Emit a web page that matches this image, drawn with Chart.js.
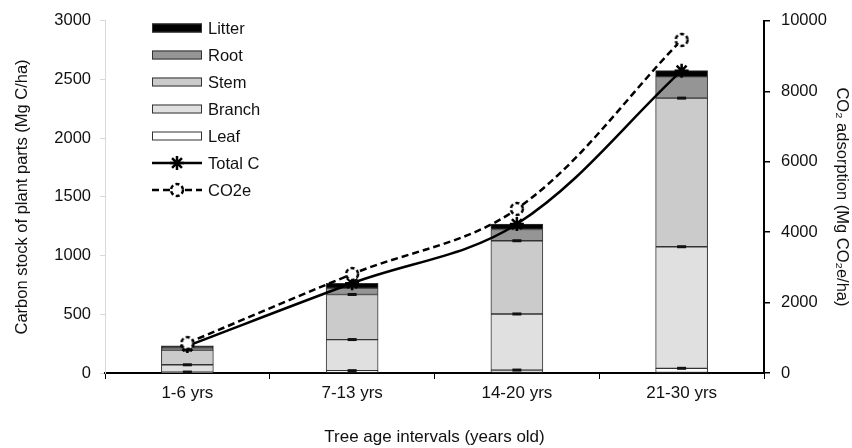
<!DOCTYPE html>
<html>
<head>
<meta charset="utf-8">
<script src="https://cdn.jsdelivr.net/npm/chart.js@4.4.0/dist/chart.umd.min.js"></script>
<style>
  html, body { margin: 0; padding: 0; background: #fff; }
  #wrap { width: 852px; height: 448px; }
</style>
</head>
<body>
<div id="wrap"><canvas id="chart"></canvas></div>
<script>
const categories = ['1-6 yrs', '7-13 yrs', '14-20 yrs', '21-30 yrs'];
const leaf = [8, 20, 25, 40];
const branch = [62, 265, 478, 1036];
const stem = [125, 384, 624, 1266];
const root = [18, 54, 96, 183];
const litter = [18, 42, 46, 51];
const totalC = [231, 765, 1269, 2576];
const co2e = [850, 2810, 4660, 9460];
const leftTicks = [0, 500, 1000, 1500, 2000, 2500, 3000];
const rightTicks = [0, 2000, 4000, 6000, 8000, 10000];

const FONT = 'Liberation Sans, Arial, sans-serif';
Chart.defaults.font.family = FONT;
Chart.defaults.color = '#111';

// dashed circle marker, like the Excel one
function dashedCircle() {
    const c = document.createElement('canvas');
    c.width = 18; c.height = 18;
    const g = c.getContext('2d');
    g.beginPath();
    g.arc(9, 9, 6, 0, Math.PI * 2);
    g.fillStyle = '#fff';
    g.fill();
    g.setLineDash([4, 2.5]);
    g.lineWidth = 2.5;
    g.strokeStyle = '#000';
    g.stroke();
    return c;
}
const co2Marker = dashedCircle();

function barSet(label, data, color) {
    return {
        type: 'bar', label: label, data: data,
        backgroundColor: color, borderColor: '#333', borderWidth: 1,
        borderSkipped: false, barThickness: 52, order: 2, yAxisID: 'y'
    };
}

const datasets = [
    Object.assign(barSet('Leaf', leaf, '#ffffff'), {errMark: true}),
    Object.assign(barSet('Branch', branch, '#e0e0e0'), {errMark: true}),
    Object.assign(barSet('Stem', stem, '#cbcbcb'), {errMark: true}),
    barSet('Root', root, '#959595'),
    barSet('Litter', litter, '#000000'),
    {
        type: 'line', label: 'Total C', data: totalC, yAxisID: 'y', order: 1,
        borderColor: '#000', borderWidth: 2.5, tension: 0.35,
        pointStyle: 'star', pointRadius: 7, pointBorderWidth: 2.5,
        pointBorderColor: '#000', pointBackgroundColor: '#000'
    },
    {
        type: 'line', label: 'CO2e', data: co2e, yAxisID: 'y1', order: 0,
        borderColor: '#000', borderWidth: 2.5, borderDash: [7, 4], tension: 0.35,
        pointStyle: co2Marker, pointRadius: 7
    }
];

// small error-bar caps at the top of each segment
const errMarks = {
    id: 'errMarks',
    afterDatasetDraw(chart, args) {
        const ds = chart.data.datasets[args.index];
        if (!ds.errMark) return;
        const ctx = chart.ctx;
        ctx.save();
        ctx.fillStyle = '#111';
        args.meta.data.forEach(el => {
            ctx.fillRect(el.x - 4.5, el.y - 1.5, 9, 3);
        });
        ctx.restore();
    }
};

// legend drawn inside the plot, top-left
const innerLegend = {
    id: 'innerLegend',
    afterDraw(chart) {
        const ctx = chart.ctx;
        const order = ['Litter', 'Root', 'Stem', 'Branch', 'Leaf', 'Total C', 'CO2e'];
        const x0 = 152, w = 50, y0 = 28, step = 27;
        ctx.save();
        ctx.font = '16.5px ' + FONT;
        ctx.textBaseline = 'middle';
        order.forEach((name, i) => {
            const ds = chart.data.datasets.find(d => d.label === name);
            const cy = y0 + i * step;
            if (ds.type === 'bar') {
                ctx.fillStyle = ds.backgroundColor;
                ctx.fillRect(x0, cy - 4.5, w, 9);
                ctx.strokeStyle = '#333';
                ctx.lineWidth = 1;
                ctx.strokeRect(x0 + 0.5, cy - 4, w - 1, 8);
            } else {
                ctx.strokeStyle = '#000';
                ctx.lineWidth = 2.5;
                ctx.setLineDash(ds.borderDash || []);
                ctx.beginPath();
                ctx.moveTo(x0, cy);
                ctx.lineTo(x0 + w, cy);
                ctx.stroke();
                ctx.setLineDash([]);
                if (ds.pointStyle === 'star') {
                    ctx.fillStyle = '#000';
                    Chart.helpers.drawPoint(ctx, {pointStyle: 'star', radius: 7, borderWidth: 2.5, rotation: 0}, x0 + w / 2, cy);
                } else {
                    ctx.drawImage(ds.pointStyle, x0 + w / 2 - 9, cy - 9);
                }
            }
            ctx.fillStyle = '#111';
            ctx.fillText(name, x0 + w + 6, cy + 1);
        });
        ctx.restore();
    }
};

const plainNumber = v => String(v);

new Chart(document.getElementById('chart'), {
    data: { labels: categories, datasets: datasets },
    options: {
        responsive: true,
        maintainAspectRatio: false,
        animation: false,
        layout: { padding: { top: 19, left: 0, right: 0, bottom: 0 } },
        plugins: { legend: { display: false }, tooltip: { enabled: false } },
        scales: {
            x: {
                stacked: true,
                offset: true,
                grid: { display: true, drawOnChartArea: false, offset: true, tickLength: 6, color: '#000', lineWidth: 1 },
                border: { color: '#000', width: 2 },
                ticks: { color: '#111', font: { size: 17 }, padding: 4 },
                title: { display: true, text: 'Tree age intervals (years old)', color: '#111', font: { size: 17 }, padding: { top: 2, bottom: 0 } },
                afterFit: s => { s.height = 75; }
            },
            y: {
                stacked: true,
                position: 'left',
                min: 0, max: 3000,
                afterBuildTicks: s => { s.ticks = leftTicks.map(v => ({ value: v })); },
                grid: { drawOnChartArea: false, tickLength: 5, color: '#d9d9d9' },
                border: { color: '#d9d9d9', width: 1 },
                ticks: { color: '#111', font: { size: 16.5 }, padding: 9, callback: plainNumber },
                title: { display: true, text: 'Carbon stock of plant parts (Mg C/ha)', color: '#111', font: { size: 16.5 }, padding: { top: 13, bottom: 0 } },
                afterFit: s => { s.width = 105; }
            },
            y1: {
                position: 'right',
                min: 0, max: 10000,
                afterBuildTicks: s => { s.ticks = rightTicks.map(v => ({ value: v })); },
                grid: { drawOnChartArea: false, tickLength: 6, color: '#000', lineWidth: 1.5 },
                border: { color: '#000', width: 2 },
                ticks: { color: '#111', font: { size: 16.5 }, padding: 11, callback: plainNumber },
                title: { display: true, text: 'CO\u2082 adsorption (Mg CO\u2082e/ha)', color: '#111', font: { size: 16.5 }, padding: { top: 1, bottom: 0 } },
                afterFit: s => { s.width = 88; }
            }
        }
    },
    plugins: [errMarks, innerLegend]
});
</script>
</body>
</html>
